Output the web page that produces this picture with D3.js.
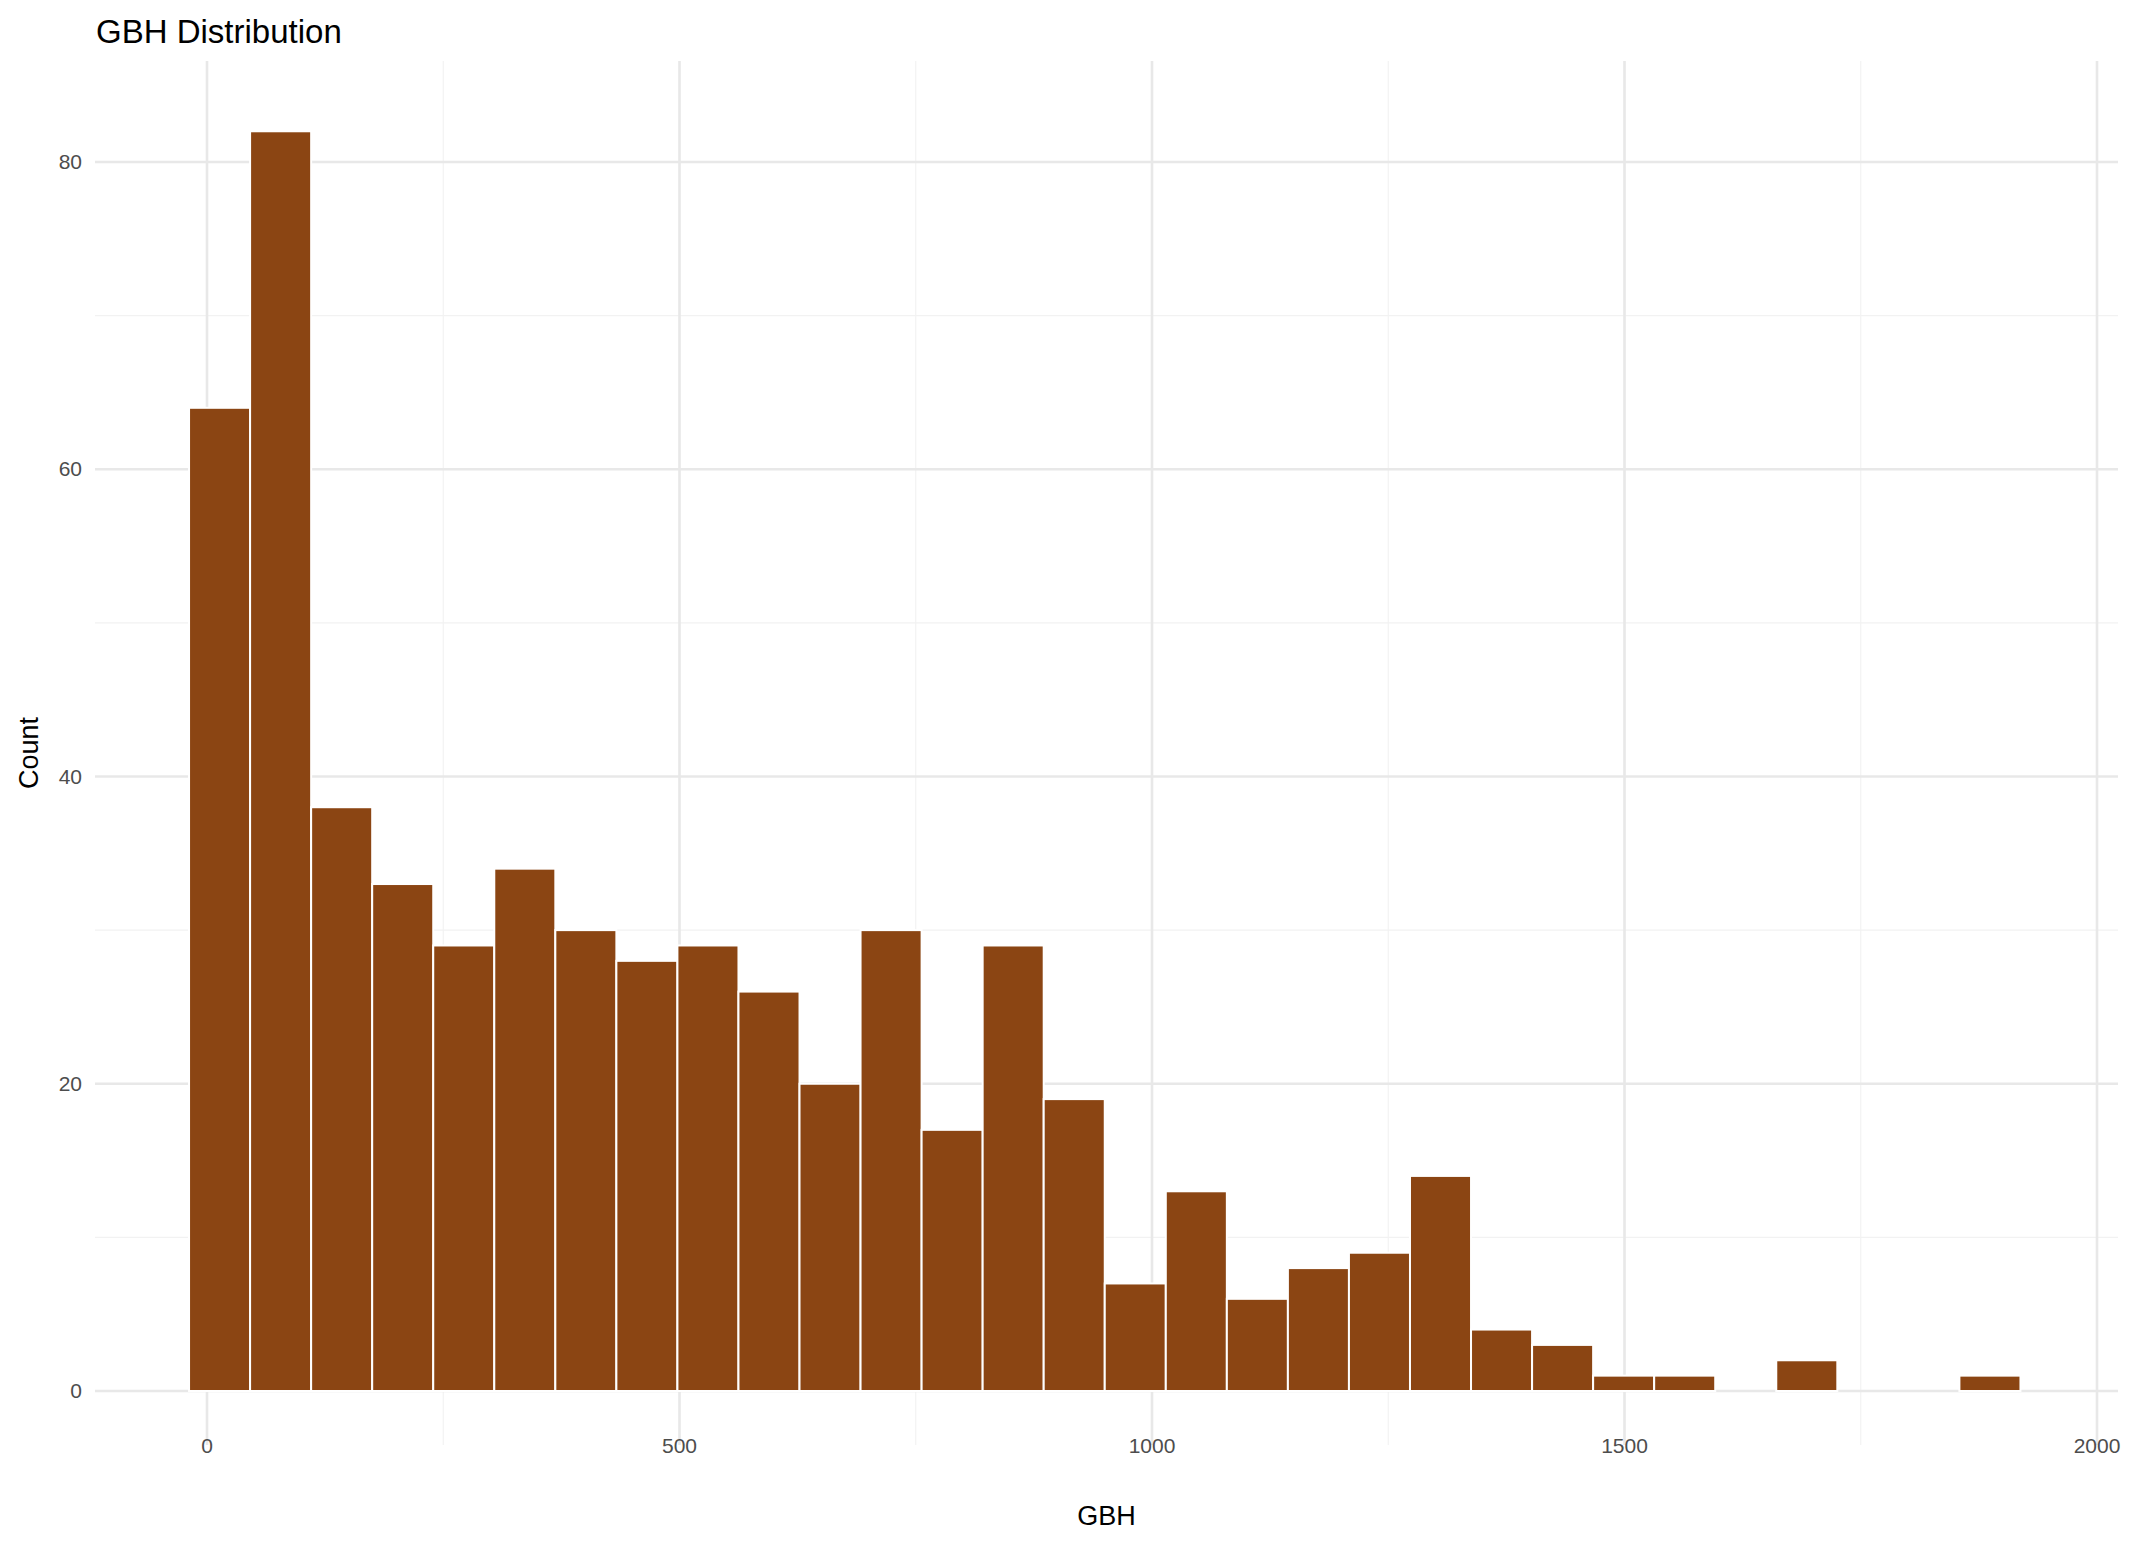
<!DOCTYPE html>
<html><head><meta charset="utf-8">
<script src="https://cdn.jsdelivr.net/npm/d3@7"></script>
<style>body{margin:0;background:#fff;font-family:"Liberation Sans",Arial,sans-serif}</style>
</head><body><div id="chart"></div>
<script>
// histogram bins
const binStart = -19, binWidth = 64.6
const counts = [64,82,38,33,29,34,30,28,29,26,20,30,17,29,19,7,13,6,8,9,14,4,3,1,1,0,2,0,0,1]
const xTicks = [0,500,1000,1500,2000]
const xMinor = [250,750,1250,1750]
const yTicks = [0,20,40,60,80]
const yMinor = [10,30,50,70]

var width = 2134, height = 1548
const svg = d3.select('#chart').append('svg').attr('width', width).attr('height', height)
const pLeft = 95, pRight = 2118, pTop = 61, pBottom = 1445

const x = d3.scaleLinear().domain([0, 2000]).range([207, 2097])
const y = d3.scaleLinear().domain([0, 80]).range([1391, 162])

const bins = counts.map((c, i) => ({x0: binStart + i * binWidth, x1: binStart + (i + 1) * binWidth, n: c}))

const g = svg.append('g')
g.selectAll('.minx').data(xMinor).enter().append('line')
    .attr('x1', d => x(d)).attr('x2', d => x(d)).attr('y1', pTop).attr('y2', pBottom)
    .attr('stroke', '#f2f2f2').attr('stroke-width', 1.2)
g.selectAll('.miny').data(yMinor).enter().append('line')
    .attr('y1', d => y(d)).attr('y2', d => y(d)).attr('x1', pLeft).attr('x2', pRight)
    .attr('stroke', '#f2f2f2').attr('stroke-width', 1.2)
g.selectAll('.majx').data(xTicks).enter().append('line')
    .attr('x1', d => x(d)).attr('x2', d => x(d)).attr('y1', pTop).attr('y2', pBottom)
    .attr('stroke', '#e8e8e8').attr('stroke-width', 2.6)
g.selectAll('.majy').data(yTicks).enter().append('line')
    .attr('y1', d => y(d)).attr('y2', d => y(d)).attr('x1', pLeft).attr('x2', pRight)
    .attr('stroke', '#e8e8e8').attr('stroke-width', 2.6)

svg.selectAll('rect').data(bins.filter(d => d.n > 0)).enter().append('rect')
    .attr('x', d => x(d.x0)).attr('width', d => x(d.x1) - x(d.x0))
    .attr('y', d => y(d.n)).attr('height', d => y(0) - y(d.n))
    .attr('fill', '#8B4513').attr('stroke', '#fff').attr('stroke-width', 2)

svg.selectAll('.xl').data(xTicks).enter().append('text')
    .attr('x', d => x(d)).attr('y', 1453).attr('text-anchor', 'middle')
    .attr('font-size', 21).attr('fill', '#4d4d4d').text(d => d)
svg.selectAll('.yl').data(yTicks).enter().append('text')
    .attr('x', 82).attr('y', d => y(d) + 7).attr('text-anchor', 'end')
    .attr('font-size', 21).attr('fill', '#4d4d4d').text(d => d)

svg.append('text').attr('x', (pLeft + pRight) / 2).attr('y', 1525).attr('text-anchor', 'middle')
    .attr('font-size', 27).text('GBH')
svg.append('text').attr('transform', 'translate(38,' + ((pTop + pBottom) / 2) + ') rotate(-90)')
    .attr('text-anchor', 'middle').attr('font-size', 27).text('Count')
svg.append('text').attr('x', 96).attr('y', 43).attr('font-size', 33).text('GBH Distribution')
</script></body></html>
